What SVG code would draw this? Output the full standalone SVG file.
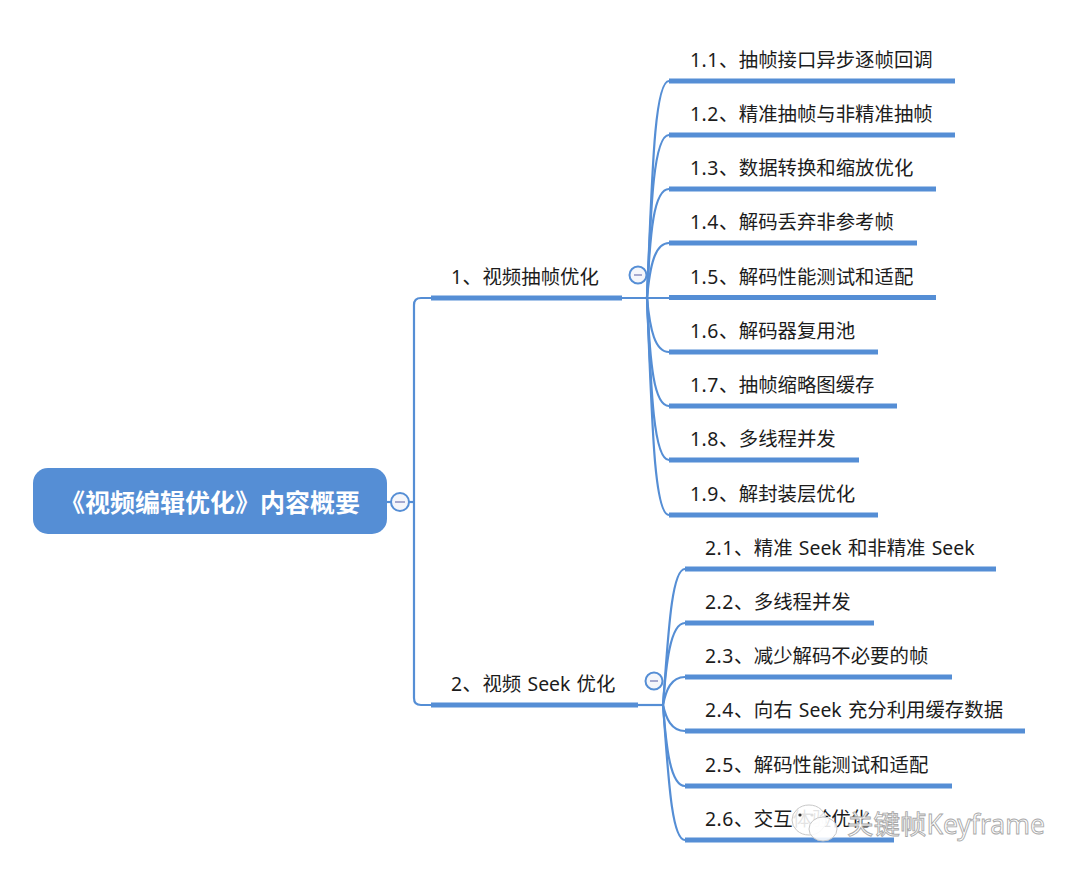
<svg xmlns="http://www.w3.org/2000/svg" width="1080" height="875" viewBox="0 0 1080 875">
<style>
text{font-family:"Noto Sans","Noto Sans CJK SC",sans-serif;font-size:19.4px;fill:#1c1c1c;word-spacing:1.2px}
tspan{letter-spacing:.5px}
.root{font-size:25px;font-weight:700;fill:#fff;text-anchor:middle}
.bar{stroke:#558ed5;stroke-width:5;fill:none}
.c{stroke:#558ed5;stroke-width:2.2;fill:none}
.col{fill:#f4f6fb;stroke:#558ed5;stroke-width:2}
.m{stroke:#a5a9cf;stroke-width:2}
.wm{font-size:26.5px;fill:#fff;stroke:#a9a9a9;stroke-width:.9}
.bub{fill:#fff;fill-opacity:.88;stroke:#c8c8c8;stroke-width:1}
</style>
<rect width="1080" height="875" fill="#fff"/>
<g id="connectors">
<path class="c" d="M387 502H414"/>
<path class="c" d="M431 298H421Q414 298 414 305V698Q414 705 421 705H431"/>
<path class="c" d="M622 298H669"/>
<path class="c" d="M647 298C652 180 654 81 669 81"/>
<path class="c" d="M647 298C651 200 654 135 669 135"/>
<path class="c" d="M647 298C650 230 654 189 669 189"/>
<path class="c" d="M647 298C650 265 655 243 669 243"/>
<path class="c" d="M647 298C650 330 655 352 669 352"/>
<path class="c" d="M647 298C650 365 654 406 669 406"/>
<path class="c" d="M647 298C651 395 654 460 669 460"/>
<path class="c" d="M647 298C652 420 654 515 669 515"/>
<path class="c" d="M638 705H663"/>
<path class="c" d="M663 705C668 640 671 569 685 569"/>
<path class="c" d="M663 705C666 665 670 623 685 623"/>
<path class="c" d="M663 705C666 690 671 677 685 677"/>
<path class="c" d="M663 705C666 718 671 731 685 731"/>
<path class="c" d="M663 705C666 745 670 786 685 786"/>
<path class="c" d="M663 705C668 770 671 840 685 840"/>
</g>
<g id="root"><rect x="33" y="468" width="354" height="66" rx="15" fill="#558ed5"/><text class="root" x="210" y="512">《视频编辑优化》内容概要</text></g>
<g id="root-toggle"><circle class="col" cx="400" cy="502" r="9"/><path class="m" d="M395 502H405"/></g>
<g id="b1"><path class="bar" d="M431 298H622"/><text x="451" y="284"><tspan>1、</tspan>视频抽帧优化</text></g>
<g id="b1-toggle"><circle class="col" cx="638" cy="275" r="8.500"/><path class="m" d="M634 275H642"/></g>
<g id="b2"><path class="bar" d="M431 705H638"/><text x="451" y="691"><tspan>2、</tspan>视频 Seek 优化</text></g>
<g id="b2-toggle"><circle class="col" cx="654" cy="681" r="8.500"/><path class="m" d="M650 681H658"/></g>
<g id="n11"><path class="bar" d="M669 81H955"/><text x="690" y="67"><tspan>1.1、</tspan>抽帧接口异步逐帧回调</text></g>
<g id="n12"><path class="bar" d="M669 135H955"/><text x="690" y="121"><tspan>1.2、</tspan>精准抽帧与非精准抽帧</text></g>
<g id="n13"><path class="bar" d="M669 189H936"/><text x="690" y="175"><tspan>1.3、</tspan>数据转换和缩放优化</text></g>
<g id="n14"><path class="bar" d="M669 243H917"/><text x="690" y="229"><tspan>1.4、</tspan>解码丢弃非参考帧</text></g>
<g id="n15"><path class="bar" d="M669 297.500H936"/><text x="690" y="283.500"><tspan>1.5、</tspan>解码性能测试和适配</text></g>
<g id="n16"><path class="bar" d="M669 352H878"/><text x="690" y="338"><tspan>1.6、</tspan>解码器复用池</text></g>
<g id="n17"><path class="bar" d="M669 406H897"/><text x="690" y="392"><tspan>1.7、</tspan>抽帧缩略图缓存</text></g>
<g id="n18"><path class="bar" d="M669 460H859"/><text x="690" y="446"><tspan>1.8、</tspan>多线程并发</text></g>
<g id="n19"><path class="bar" d="M669 515H878"/><text x="690" y="501"><tspan>1.9、</tspan>解封装层优化</text></g>
<g id="n21"><path class="bar" d="M685 569H996"/><text x="705" y="555"><tspan>2.1、</tspan>精准 Seek 和非精准 Seek</text></g>
<g id="n22"><path class="bar" d="M685 623H874"/><text x="705" y="609"><tspan>2.2、</tspan>多线程并发</text></g>
<g id="n23"><path class="bar" d="M685 677H952"/><text x="705" y="663"><tspan>2.3、</tspan>减少解码不必要的帧</text></g>
<g id="n24"><path class="bar" d="M685 731H1025"/><text x="705" y="717"><tspan>2.4、</tspan>向右 Seek 充分利用缓存数据</text></g>
<g id="n25"><path class="bar" d="M685 786H952"/><text x="705" y="772"><tspan>2.5、</tspan>解码性能测试和适配</text></g>
<g id="n26"><path class="bar" d="M685 840H894"/><text x="705" y="826"><tspan>2.6、</tspan>交互体验优化</text></g>
<g id="watermark">
<ellipse class="bub" cx="809" cy="820" rx="17" ry="15"/>
<ellipse class="bub" cx="823" cy="829" rx="14" ry="12"/>
<circle cx="800" cy="815" r="1.6" fill="#333"/><circle cx="812" cy="815" r="1.6" fill="#ddd"/>
<text class="wm" x="847" y="834">关键帧Keyframe</text>
</g>
</svg>
